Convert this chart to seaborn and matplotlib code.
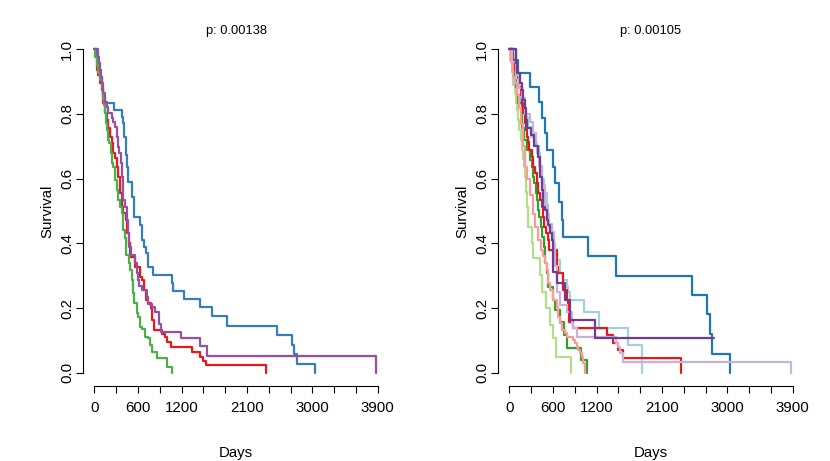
import pandas as pd
import seaborn as sns
import matplotlib
matplotlib.use("Agg")
import matplotlib.pyplot as plt

# ---- data, step points: time in days, survival after the step ----
# left panel
red_t = [0, 33, 41, 55, 78, 102, 124, 147, 171, 193, 216, 248, 261, 285, 308, 330, 354, 377, 399, 432,
         446, 477, 495, 560, 629, 660, 684, 707, 743, 776, 798, 822, 927, 973, 1005, 1055, 1340, 1455,
         1492, 1537, 2359]
red_s = [1.0, .967, .936, .92, .895, .874, .833, .802, .781, .756, .730, .709, .678, .663, .637, .606, .555,
         .513, .493, .472, .431, .400, .359, .326, .297, .287, .256, .225, .215, .199, .163, .132, .12, .112,
         .096, .081, .065, .05, .036, .024, 0]

blue_t = [0, 33, 55, 78, 102, 124, 147, 275, 377, 399, 413, 432, 454, 468, 515, 550, 629, 660, 688, 711,
          743, 812, 1065, 1079, 1238, 1455, 1615, 1822, 2510, 2725, 2752, 2785, 3037]
blue_s = [1.0, .967, .936, .915, .874, .853, .833, .812, .792, .771, .730, .673, .637, .591, .544, .483,
          .457, .41, .39, .369, .326, .302, .277, .254, .227, .202, .176, .146, .117, .086, .058, .027, 0]

green_t = [0, 10, 33, 55, 78, 102, 124, 134, 147, 161, 171, 184, 206, 226, 239, 261, 285, 308, 330, 354,
           377, 399, 422, 436, 482, 491, 515, 537, 550, 583, 605, 629, 660, 698, 743, 766, 790, 858, 996, 1065]
green_s = [1.0, .977, .951, .926, .905, .884, .848, .828, .802, .771, .751, .720, .709, .678, .648, .637,
           .596, .565, .534, .513, .493, .441, .416, .364, .338, .318, .287, .246, .215, .184, .173, .142,
           .134, .112, .107, .086, .065, .045, .019, 0]

purple_t = [0, 47, 65, 78, 88, 102, 124, 147, 171, 193, 239, 261, 285, 308, 322, 344, 363, 377, 391, 399,
            422, 446, 468, 482, 501, 560, 583, 605, 619, 652, 721, 743, 790, 835, 895, 914, 1189, 1455,
            1555, 3872]
purple_s = [1.0, .977, .957, .936, .915, .895, .864, .838, .823, .802, .787, .776, .761, .730, .699, .678,
            .648, .606, .565, .534, .513, .472, .431, .39, .364, .338, .308, .287, .268, .256, .235, .213,
            .202, .189, .151, .127, .107, .082, .053, 0]

# right panel
lblue_t = [0, 33, 55, 110, 160, 210, 260, 300, 340, 380, 420, 450, 482, 515, 545, 583, 615, 652, 698,
           743, 790, 812, 835, 1032, 1238, 1637, 1822]
lblue_s = [1.0, .93, .89, .86, .83, .79, .76, .73, .71, .68, .64, .60, .555, .49, .45, .41, .379, .349,
           .308, .287, .266, .251, .225, .189, .137, .086, 0]

dblue_t = [0, 92, 124, 285, 413, 446, 491, 515, 605, 629, 684, 721, 743, 1079, 1468, 2510, 2725, 2762,
           2794, 3037]
dblue_s = [1.0, .967, .928, .885, .838, .787, .74, .689, .637, .586, .529, .472, .42, .361, .299, .241,
           .181, .119, .058, 0]

lgreen_t = [0, 10, 47, 65, 78, 92, 110, 124, 138, 156, 171, 193, 206, 216, 225, 239, 253, 261, 317, 330,
            422, 446, 505, 560, 597, 643, 845]
lgreen_s = [1.0, .967, .926, .895, .864, .833, .812, .781, .751, .72, .689, .66, .64, .606, .56, .513,
            .483, .452, .40, .354, .302, .251, .2, .148, .107, .05, 0]

dgreen_t = [0, 47, 55, 78, 92, 110, 124, 171, 202, 250, 285, 308, 330, 344, 363, 377, 399, 409, 436, 454,
            482, 491, 515, 537, 605, 629, 698, 752, 790, 982, 1065]
dgreen_s = [1.0, .967, .936, .905, .885, .859, .833, .756, .72, .69, .658, .637, .606, .586, .555, .534,
            .503, .483, .452, .42, .39, .338, .308, .266, .225, .194, .158, .117, .076, .04, 0]

pink_t = [0, 20, 55, 78, 100, 130, 160, 193, 216, 250, 290, 330, 354, 399, 440, 468, 491, 515, 537, 560,
          605, 652, 674, 698, 721, 767, 790, 881, 904, 927, 950, 973, 996, 1019, 1042]
pink_s = [1.0, .96, .915, .895, .86, .82, .77, .70, .637, .6, .55, .49, .45, .41, .38, .36, .34, .318,
          .277, .256, .225, .204, .173, .153, .132, .122, .112, .101, .091, .081, .07, .06, .05, .029, 0]

dred_t = [0, 47, 78, 102, 124, 138, 156, 171, 184, 193, 216, 230, 248, 261, 275, 308, 330, 354, 377, 399,
          422, 446, 468, 482, 501, 528, 550, 652, 674, 743, 790, 812, 826, 881, 1340, 1423, 1492, 1560, 2362]
dred_s = [1.0, .967, .936, .926, .91, .885, .859, .833, .818, .802, .771, .751, .730, .714, .689, .668,
          .637, .617, .586, .555, .534, .513, .482, .452, .431, .41, .379, .328, .308, .256, .225, .215,
          .158, .137, .117, .091, .07, .047, 0]

lpurple_t = [0, 40, 90, 130, 170, 216, 285, 330, 370, 410, 450, 490, 537, 583, 610, 630, 652, 698, 790,
             859, 881, 927, 1468, 1500, 1523, 1569, 3872]
lpurple_s = [1.0, .96, .92, .88, .85, .8, .776, .74, .70, .64, .58, .52, .46, .436, .40, .33, .25, .21,
             .189, .153, .137, .11, .091, .081, .06, .034, 0]

dpurple_t = [0, 92, 110, 147, 171, 184, 216, 230, 248, 294, 344, 399, 422, 446, 468, 491, 515, 537, 560,
             583, 597, 605, 652, 767, 835, 1179, 2821]
dpurple_s = [1.0, .957, .926, .895, .874, .843, .818, .781, .756, .735, .70, .668, .606, .565, .513, .503,
             .472, .457, .431, .41, .349, .313, .277, .225, .163, .109, .109]

x_ticks = list(range(0, 3901, 300))
x_labels = ["0", "", "600", "", "1200", "", "", "2100", "", "", "3000", "", "", "3900"]
y_ticks = [0.0, 0.2, 0.4, 0.6, 0.8, 1.0]
y_labels = ["0.0", "0.2", "0.4", "0.6", "0.8", "1.0"]
p_values = ["p: 0.00138", "p: 0.00105"]


def long_df(curves):
    rows = []
    for name, (t, s) in curves.items():
        for ti, si in zip(t, s):
            rows.append((name, ti, si))
    return pd.DataFrame(rows, columns=["group", "time", "surv"])


left = long_df({"red": (red_t, red_s), "blue": (blue_t, blue_s),
                "green": (green_t, green_s), "purple": (purple_t, purple_s)})
right = long_df({"lblue": (lblue_t, lblue_s), "dblue": (dblue_t, dblue_s),
                 "lgreen": (lgreen_t, lgreen_s), "dgreen": (dgreen_t, dgreen_s),
                 "pink": (pink_t, pink_s), "dred": (dred_t, dred_s),
                 "lpurple": (lpurple_t, lpurple_s), "dpurple": (dpurple_t, dpurple_s)})

pal_left = {"red": "#E41A1C", "blue": "#377EB8", "green": "#4DAF4A", "purple": "#984EA3"}
pal_right = {"lblue": "#A6CEE3", "dblue": "#1F78B4", "lgreen": "#B2DF8A", "dgreen": "#33A02C",
             "pink": "#FB9A99", "dred": "#E31A1C", "lpurple": "#CAB2D6", "dpurple": "#6A3D9A"}

sns.set_theme(style="white")
plt.rcParams["font.family"] = ["Liberation Sans", "DejaVu Sans"]
plt.rcParams["text.color"] = "black"
plt.rcParams["axes.labelcolor"] = "black"
plt.rcParams["xtick.color"] = "black"
plt.rcParams["ytick.color"] = "black"

fig = plt.figure(figsize=(8.3, 4.61), dpi=100)
ax1 = fig.add_axes([0.1, 0.1633, 0.3687, 0.7577])
ax2 = fig.add_axes([0.6, 0.1633, 0.3687, 0.7577])

for ax, df, pal, p in [(ax1, left, pal_left, p_values[0]), (ax2, right, pal_right, p_values[1])]:
    sns.lineplot(data=df, x="time", y="surv", hue="group", hue_order=list(pal.keys()), palette=pal,
                 estimator=None, drawstyle="steps-post", linewidth=1.6, legend=False, ax=ax)
    ax.set_xlim(-156, 4056)
    ax.set_ylim(-0.04, 1.04)
    for side in ["top", "right"]:
        ax.spines[side].set_visible(False)
    ax.spines["left"].set_bounds(0, 1)
    ax.spines["bottom"].set_bounds(0, 3900)
    for side in ["left", "bottom"]:
        ax.spines[side].set_color("black")
        ax.spines[side].set_linewidth(0.8)
    ax.set_xticks(x_ticks)
    ax.set_xticklabels(x_labels, fontsize=10.8)
    ax.set_yticks(y_ticks)
    ax.set_yticklabels(y_labels, fontsize=10.8, rotation=90, va="center")
    ax.tick_params(axis="both", direction="out", length=5, width=0.8, colors="black",
                   left=True, bottom=True)
    ax.tick_params(axis="x", pad=6)
    ax.tick_params(axis="y", pad=1.5)
    ax.set_xlabel("Days", fontsize=10.8, color="black")
    ax.set_ylabel("Survival", fontsize=10.8, color="black")
    ax.xaxis.set_label_coords(0.5, -0.172)
    ax.yaxis.set_label_coords(-0.095, 0.5)
    ax.text(0.5, 1.0083, p, transform=ax.transAxes, ha="center", va="baseline", fontsize=9.3,
            color="black")

fig.savefig("out.png", dpi=100)
